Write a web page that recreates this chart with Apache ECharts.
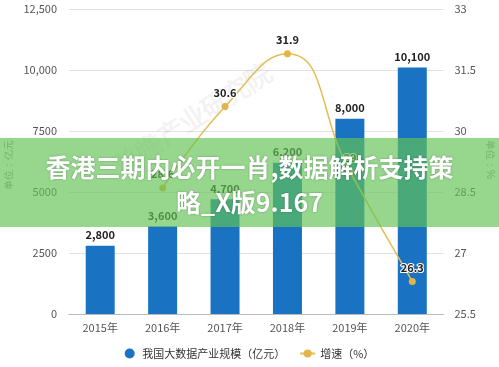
<!DOCTYPE html>
<html>
<head>
<meta charset="utf-8">
<script src="https://cdn.jsdelivr.net/npm/echarts@6/dist/echarts.min.js"></script>
<style>html,body{margin:0;padding:0;background:#fff}#c{width:499px;height:367px}</style>
</head>
<body>
<div id="c"></div>
<script>
var categories = ['2015年','2016年','2017年','2018年','2019年','2020年'];
var scaleValues = [2800, 3600, 4700, 6200, 8000, 10100];
var growthValues = [null, 28.6, 30.6, 31.9, 29.0, 26.3];
var seriesNames = ['我国大数据产业规模（亿元）', '增速（%）'];
var titleLines = ['香港三期内必开一肖,数据解析支持策', '略_X版9.167'];
var leftUnit = '单位：亿元';
var rightUnit = '单位：%';

function fmtThousands(v){
  var s = String(v);
  if (s.length >= 5) return s.replace(/\B(?=(\d{3})+(?!\d))/g, ',');
  return s;
}

var chart = echarts.init(document.getElementById('c'));
chart.setOption({
  animation: false,
  backgroundColor: '#fff',
  textStyle: {fontFamily: '"Noto Sans CJK SC", "Noto Sans", sans-serif'},
  grid: {left: 69, right: 55.5, top: 9, bottom: 53},
  legend: {
    bottom: 3, left: 'center', itemGap: 14, itemWidth: 15, itemHeight: 10,
    textStyle: {fontSize: 11, color: '#333'},
    data: [{name: seriesNames[0], icon: 'circle'}, {name: seriesNames[1]}]
  },
  xAxis: {
    type: 'category', data: categories,
    axisLine: {lineStyle: {color: '#bbb'}},
    axisTick: {show: false},
    axisLabel: {color: '#555', fontSize: 11, margin: 8}
  },
  yAxis: [{
    type: 'value', min: 0, max: 12500, interval: 2500,
    axisLine: {show: false}, axisTick: {show: false},
    axisLabel: {color: '#555', fontSize: 11, margin: 12, formatter: fmtThousands},
    splitLine: {lineStyle: {color: '#e2e2e2'}}
  }, {
    type: 'value', min: 25.5, max: 33, interval: 1.5,
    axisLine: {show: false}, axisTick: {show: false},
    axisLabel: {color: '#555', fontSize: 11, margin: 11},
    splitLine: {show: false}
  }],
  series: [{
    name: seriesNames[0], type: 'bar', data: scaleValues, barWidth: 29,
    itemStyle: {color: '#1a73c2'},
    label: {show: true, position: 'top', color: '#222', fontWeight: 'bold', fontSize: 11,
      formatter: function(p){ return String(p.value).replace(/\B(?=(\d{3})+(?!\d))/g, ','); }}
  }, {
    name: seriesNames[1], type: 'line', yAxisIndex: 1, data: growthValues, smooth: true,
    symbol: 'circle', symbolSize: 7,
    lineStyle: {color: '#e3bd55', width: 1.5},
    itemStyle: {color: '#e3b548'},
    label: {show: true, position: 'top', color: '#222', fontWeight: 'bold', fontSize: 11,
      textBorderColor: '#fff', textBorderWidth: 2}
  }],
  graphic: [
    {type: 'text', z: 1, left: 4, top: 140, rotation: Math.PI/2,
      style: {text: leftUnit, fill: '#888', fontSize: 10}},
    {type: 'text', z: 1, right: 4, top: 140, rotation: -Math.PI/2,
      style: {text: rightUnit, fill: '#888', fontSize: 10}},
    {type: 'text', z: 1, left: 110, top: 60, rotation: Math.PI/5.5,
      style: {text: '前瞻产业研究院', fill: 'rgba(0,0,0,0.05)', fontSize: 26, fontWeight: 'bold'}},
    {type: 'rect', z: 100, shape: {x: 0, y: 138, width: 499, height: 89},
      style: {fill: 'rgba(99,196,85,0.67)'}},
    {type: 'text', z: 101, left: 'center', top: 155,
      style: {text: titleLines[0], fill: '#fff', fontSize: 25, fontWeight: 'bold',
        textShadowColor: 'rgba(0,0,0,0.35)', textShadowBlur: 2,
        fontFamily: '"Noto Sans CJK SC", sans-serif'}},
    {type: 'text', z: 101, left: 'center', top: 190,
      style: {text: titleLines[1], fill: '#fff', fontSize: 25, fontWeight: 'bold',
        textShadowColor: 'rgba(0,0,0,0.35)', textShadowBlur: 2,
        fontFamily: '"Noto Sans CJK SC", sans-serif'}}
  ]
});
</script>
</body>
</html>
